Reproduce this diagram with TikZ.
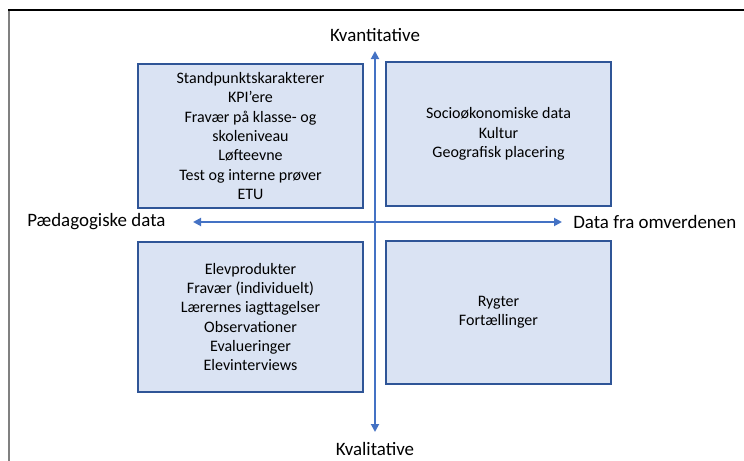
\documentclass[tikz,border=0pt]{standalone}
\usepackage{fontspec}
\setmainfont{Carlito}
\usetikzlibrary{arrows.meta}

\definecolor{boxfill}{HTML}{DAE3F3}
\definecolor{boxline}{HTML}{2F5597}
\definecolor{axisblue}{HTML}{4472C4}

\tikzset{
	quad/.style={draw=boxline, fill=boxfill, line width=1pt, align=center, minimum width=168.75pt, inner sep=0pt},
	axis/.style={draw=axisblue, line width=1.4pt, arrows={Triangle[length=6pt,width=6pt]-Triangle[length=6pt,width=6pt]}},
	lbl/.style={inner sep=0pt, font=\fontsize{14.2}{17}\selectfont}
}

\begin{document}
\begin{tikzpicture}[x=0.75pt, y=-0.75pt, font=\fontsize{12}{14.5}\selectfont]
	\useasboundingbox (0,0) rectangle (744,461);
	% frame of the screenshot
	\draw[gray, line width=1.5pt] (8.5,10) -- (8.5,461);
	\draw[black, line width=0.8pt] (8,10) -- (744,10);

	% the four quadrants
	\node[quad, minimum height=108pt] (tl) at (250.5,136) {Standpunktskarakterer\\KPI’ere\\Fravær på klasse- og\\skoleniveau\\Løfteevne\\Test og interne prøver\\ETU};
	\node[quad, minimum height=108pt] (tr) at (498.5,134) {Socioøkonomiske data\\Kultur\\Geografisk placering};
	\node[quad, minimum height=112.5pt] (bl) at (250.5,317) {Elevprodukter\\Fravær (individuelt)\\Lærernes iagttagelser\\Observationer\\Evalueringer\\Elevinterviews};
	\node[quad, minimum height=107.25pt] (br) at (498.5,312.5) {Rygter\\Fortællinger};

	% axes
	\coordinate (up) at (375,51);
	\coordinate (down) at (375,432);
	\coordinate (left) at (193,222);
	\coordinate (right) at (562,222);
	\draw[axis] (down) -- (up);
	\draw[axis] (left) -- (right);

	% axis labels
	\node[lbl] (kvant) at (375,35) {Kvantitative};
	\node[lbl] (kval) at (375,449) {Kvalitative};
	\node[lbl, anchor=west] (paed) at (27,222) {Pædagogiske data};
	\node[lbl, anchor=west] (omv) at (573,222) {Data fra omverdenen};
\end{tikzpicture}
\end{document}
